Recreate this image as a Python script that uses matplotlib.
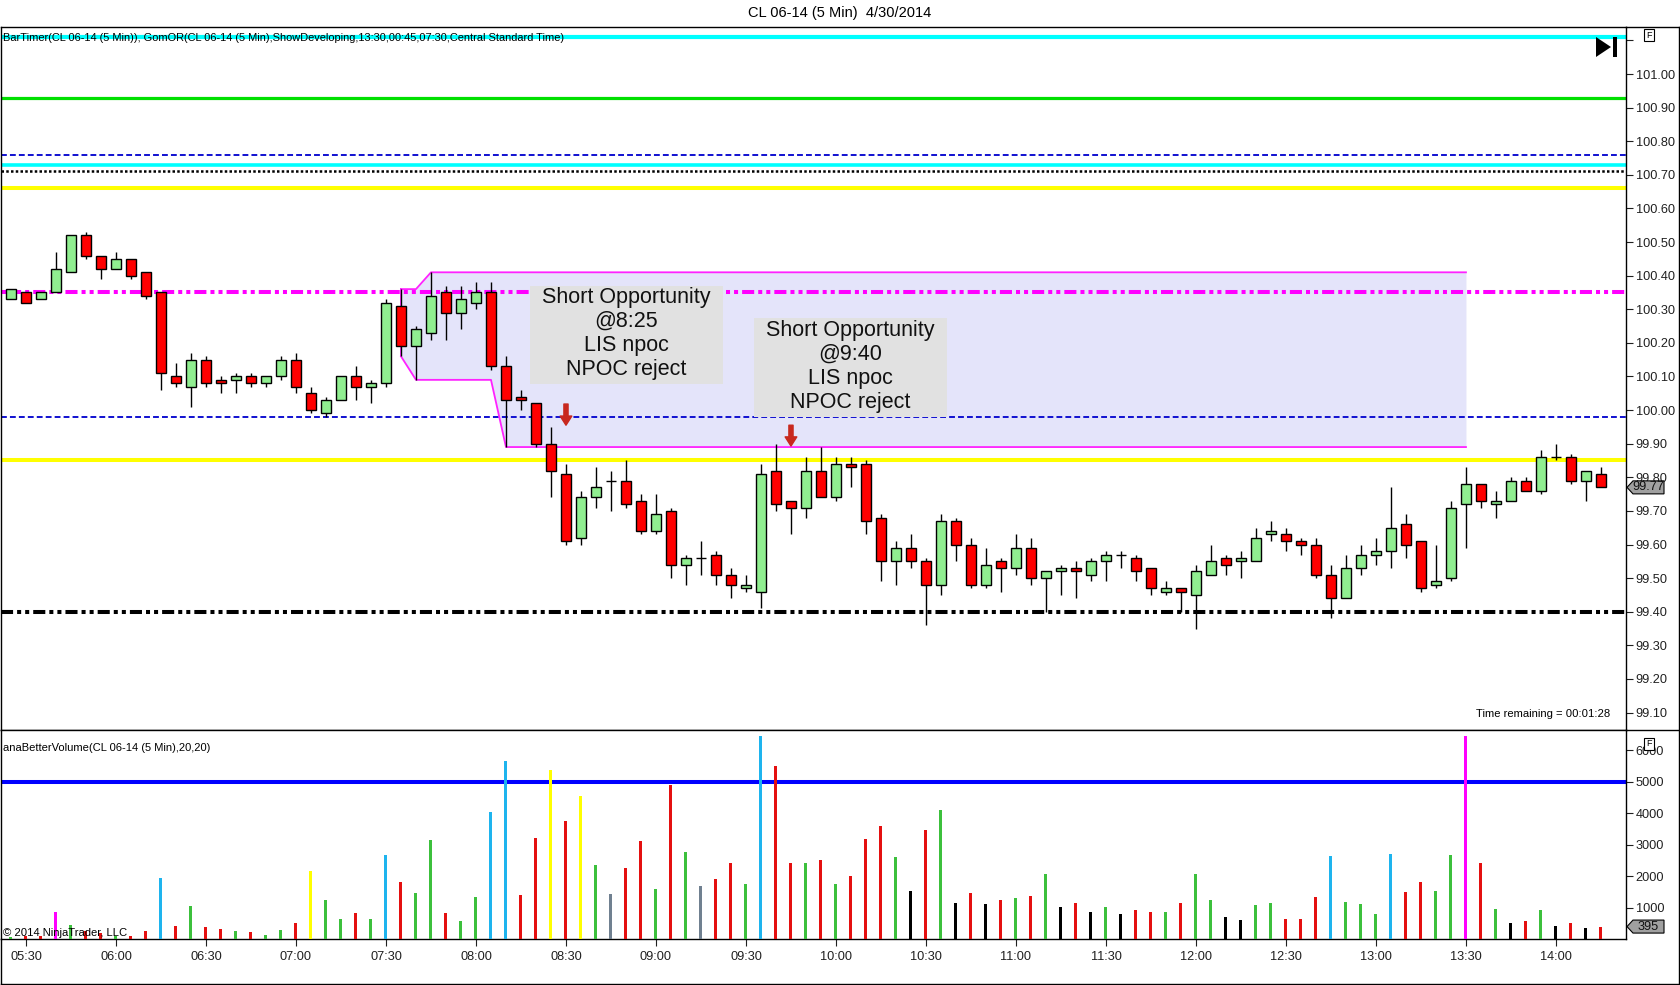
import matplotlib
matplotlib.use('Agg')
import matplotlib.pyplot as plt
import numpy as np
import pandas as pd
from matplotlib.lines import Line2D
from matplotlib.patches import Polygon, Rectangle
from matplotlib.transforms import blended_transform_factory

plt.rcParams['font.family'] = ['Liberation Sans', 'DejaVu Sans']

# 5 minute bars, CL 06-14, 4/30/2014
times = pd.date_range('2014-04-30 05:25', '2014-04-30 14:15', freq='5min')

opens = [100.33, 100.35, 100.33, 100.35, 100.41, 100.52, 100.46, 100.42, 100.45, 100.41,
         100.35, 100.10, 100.07, 100.15, 100.09, 100.09, 100.10, 100.08, 100.10, 100.15,
         100.05, 99.99, 100.03, 100.10, 100.07, 100.08, 100.31, 100.19, 100.23, 100.35,
         100.29, 100.32, 100.35, 100.13, 100.04, 100.02, 99.90, 99.81, 99.62, 99.74,
         99.79, 99.79, 99.73, 99.64, 99.70, 99.54, 99.56, 99.57, 99.51, 99.47,
         99.46, 99.82, 99.73, 99.71, 99.82, 99.74, 99.84, 99.84, 99.68, 99.55,
         99.59, 99.55, 99.48, 99.67, 99.60, 99.48, 99.55, 99.53, 99.59, 99.50,
         99.52, 99.53, 99.51, 99.55, 99.57, 99.56, 99.53, 99.46, 99.47, 99.45,
         99.51, 99.56, 99.55, 99.55, 99.63, 99.63, 99.61, 99.60, 99.51, 99.44,
         99.53, 99.57, 99.58, 99.66, 99.61, 99.48, 99.50, 99.72, 99.78, 99.72,
         99.73, 99.79, 99.76, 99.86, 99.86, 99.79, 99.81]
highs = [100.36, 100.35, 100.35, 100.47, 100.52, 100.53, 100.46, 100.47, 100.45, 100.41,
         100.35, 100.14, 100.17, 100.16, 100.10, 100.11, 100.11, 100.10, 100.16, 100.17,
         100.07, 100.04, 100.10, 100.13, 100.09, 100.33, 100.36, 100.25, 100.41, 100.37,
         100.37, 100.38, 100.38, 100.16, 100.06, 100.02, 99.95, 99.84, 99.76, 99.83,
         99.82, 99.85, 99.75, 99.75, 99.71, 99.57, 99.61, 99.58, 99.53, 99.51,
         99.84, 99.90, 99.73, 99.86, 99.89, 99.86, 99.86, 99.85, 99.69, 99.61,
         99.63, 99.56, 99.69, 99.68, 99.62, 99.59, 99.56, 99.63, 99.62, 99.52,
         99.54, 99.55, 99.56, 99.58, 99.58, 99.57, 99.53, 99.49, 99.47, 99.54,
         99.60, 99.57, 99.58, 99.65, 99.67, 99.65, 99.62, 99.62, 99.54, 99.57,
         99.60, 99.62, 99.77, 99.69, 99.61, 99.60, 99.73, 99.83, 99.78, 99.76,
         99.80, 99.80, 99.88, 99.90, 99.87, 99.82, 99.83]
lows = [100.33, 100.32, 100.33, 100.35, 100.41, 100.45, 100.39, 100.42, 100.39, 100.33,
        100.06, 100.07, 100.01, 100.07, 100.05, 100.05, 100.07, 100.07, 100.09, 100.05,
        99.99, 99.98, 100.03, 100.03, 100.02, 100.07, 100.16, 100.09, 100.21, 100.21,
        100.24, 100.30, 100.12, 99.89, 100.00, 99.89, 99.74, 99.60, 99.60, 99.71,
        99.70, 99.71, 99.63, 99.63, 99.50, 99.48, 99.51, 99.48, 99.44, 99.46,
        99.41, 99.70, 99.63, 99.68, 99.74, 99.73, 99.77, 99.63, 99.49, 99.48,
        99.53, 99.36, 99.45, 99.55, 99.47, 99.47, 99.46, 99.51, 99.48, 99.40,
        99.45, 99.44, 99.49, 99.49, 99.53, 99.49, 99.45, 99.45, 99.40, 99.35,
        99.51, 99.51, 99.50, 99.55, 99.61, 99.58, 99.57, 99.50, 99.38, 99.44,
        99.51, 99.54, 99.53, 99.56, 99.46, 99.47, 99.49, 99.59, 99.71, 99.68,
        99.73, 99.76, 99.75, 99.85, 99.78, 99.73, 99.77]
closes = [100.36, 100.32, 100.35, 100.42, 100.52, 100.46, 100.42, 100.45, 100.40, 100.34,
          100.11, 100.08, 100.15, 100.08, 100.08, 100.10, 100.08, 100.10, 100.15, 100.07,
          100.00, 100.03, 100.10, 100.07, 100.08, 100.32, 100.19, 100.24, 100.34, 100.29,
          100.33, 100.35, 100.13, 100.03, 100.03, 99.90, 99.82, 99.61, 99.74, 99.77,
          99.79, 99.72, 99.64, 99.69, 99.54, 99.56, 99.56, 99.51, 99.48, 99.48,
          99.81, 99.72, 99.71, 99.82, 99.74, 99.84, 99.83, 99.67, 99.55, 99.59,
          99.55, 99.48, 99.67, 99.60, 99.48, 99.54, 99.53, 99.59, 99.50, 99.52,
          99.53, 99.52, 99.55, 99.57, 99.57, 99.52, 99.47, 99.47, 99.46, 99.52,
          99.55, 99.54, 99.56, 99.62, 99.64, 99.61, 99.60, 99.51, 99.44, 99.53,
          99.57, 99.58, 99.65, 99.60, 99.47, 99.49, 99.71, 99.78, 99.73, 99.73,
          99.79, 99.76, 99.86, 99.86, 99.79, 99.82, 99.77]

volumes = [60, 100, 80, 870, 455, 265, 180, 80, 105, 265,
           1930, 425, 1060, 390, 330, 265, 210, 140, 300, 520,
           2160, 1250, 650, 840, 650, 2680, 1820, 1470, 3160, 840,
           580, 1345, 4050, 5670, 1410, 3220, 5370, 3760, 4530, 2365,
           1440, 2270, 3100, 1600, 4880, 2780, 1700, 1920, 2430, 1760,
           6440, 5510, 2400, 2430, 2520, 1760, 2015, 3190, 3600, 2620,
           1540, 3480, 4110, 1155, 1475, 1125, 1250, 1315, 1380, 2080,
           1030, 1155, 870, 1030, 805, 930, 870, 870, 1155, 2080,
           1250, 710, 615, 1090, 1155, 650, 650, 1345, 2650, 1190,
           1125, 805, 2710, 1500, 1820, 1540, 2680, 6440, 2430, 965,
           520, 580, 930, 425, 520, 360, 395]
# anaBetterVolume bar type: r=down, g=up, c=high churn, y=climax, m=climax churn, k=low volume, s=neutral
vol_type = list('grrmgrrgrr' 'crgrrgrggr' 'yggrgcrggr' 'ggccrryryg' 'srrgrgsrrg'
                'crrgrgrrrg' 'krgkrkrgrg' 'krkgkrrgrg' 'gkkggrrrcg' 'ggcrrggmrg'
                'krgkrkr')

# GomOR developing opening range (07:30-13:30)
or_hi_times = ['07:35', '07:40', '07:45', '13:30']
or_hi = [100.36, 100.36, 100.41, 100.41]
or_lo_times = ['07:35', '07:40', '08:05', '08:10', '13:30']
or_lo = [100.16, 100.09, 100.09, 99.89, 99.89]

# horizontal reference levels
levels = [101.11, 100.93, 100.76, 100.73, 100.71, 100.66, 100.35, 99.98, 99.85, 99.40]
vol_level = 5000

notes = ['Short Opportunity\n@8:25\nLIS npoc\nNPOC reject',
         'Short Opportunity\n@9:40\nLIS npoc\nNPOC reject']
arrow_times = ['08:30', '09:45']

W, H = 1680, 985
fig = plt.figure(figsize=(W / 100, H / 100), dpi=100)


def px_axes(l, t, r, b):
    return fig.add_axes([l / W, 1 - b / H, (r - l) / W, (b - t) / H])


labels = [t.strftime('%H:%M') for t in times]
x = np.arange(len(times))
pos = {lab: i for i, lab in enumerate(labels)}
o, h, l, c = map(np.array, (opens, highs, lows, closes))

ax = px_axes(0.5, 27, 1626, 730)
axv = px_axes(0.5, 730, 1626, 939)
for a in (ax, axv):
    a.set_xlim(-0.7, 107.67)
    for s in a.spines.values():
        s.set_linewidth(1.0)
        s.set_color('black')

ax.set_ylim(99.048, 101.14)

# reference levels
lev_style = [('#00FFFF', 3.0, '-'), ('#00E000', 2.3, '-'), ('#1010D0', 1.4, (0, (3, 1.6))),
             ('#00FFFF', 2.6, '-'), ('black', 1.8, (0, (1, 0.9))), ('#FFFF00', 2.9, '-'),
             ('#FF00FF', 2.9, (0, (3, 1, 1, 1, 1, 1))), ('#1010D0', 1.4, (0, (3, 1.6))),
             ('#FFFF00', 2.9, '-'), ('black', 2.9, (0, (3, 1, 1, 1, 1, 1)))]
for lv, (col, lw, ls) in zip(levels, lev_style):
    ax.axhline(lv, color=col, lw=lw, ls=ls, zorder=2)

# opening range box
hx = [pos[t] for t in or_hi_times]
lx = [pos[t] for t in or_lo_times]
fx = np.arange(hx[0], hx[-1] + 1)
ax.fill_between(fx, np.interp(fx, lx, or_lo), np.interp(fx, hx, or_hi),
                color='#E4E4FA', lw=0, zorder=1)
ax.plot(hx, or_hi, color='#FF22FF', lw=1.3, zorder=2.5)
ax.plot(lx, or_lo, color='#FF22FF', lw=1.3, zorder=2.5)
ax.plot([hx[0], hx[0]], [or_lo[0], or_hi[0]], color='#FF22FF', lw=1.3, zorder=2.5)

# candles
body_col = np.where(c >= o, '#90EE90', '#FF0000')
ax.vlines(x, l, h, color='black', lw=1.0, zorder=3)
ax.bar(x, np.abs(c - o), bottom=np.minimum(o, c), width=0.67, color=body_col,
       edgecolor='black', linewidth=1.0, zorder=4)

# annotation boxes (x0, x1 in bar units, y0, y1 in price)
note_boxes = [(34.6, 47.45, 100.077, 100.370), (49.53, 62.4, 99.978, 100.273)]
for txt, (x0, x1, y0, y1) in zip(notes, note_boxes):
    ax.add_patch(Rectangle((x0, y0), x1 - x0, y1 - y0, fc='#E1E1E1', ec='none', zorder=5))
    ax.text((x0 + x1) / 2, (y0 + y1) / 2 + 0.004, txt, ha='center', va='center',
            fontsize=15.5, linespacing=1.2, zorder=6, color='#111111')
for t, top, tip in zip(arrow_times, [100.018, 99.955], [99.955, 99.893]):
    ax.annotate('', xy=(pos[t], tip), xytext=(pos[t], top), zorder=7,
                arrowprops=dict(arrowstyle='simple,head_width=0.7,head_length=0.55,tail_width=0.25',
                                color='#C8281E', mutation_scale=12, shrinkA=0, shrinkB=0))

ax.yaxis.tick_right()
ax.set_yticks(np.round(np.arange(99.1, 101.15, 0.1), 2))
ax.set_yticklabels(['%.2f' % v for v in np.arange(99.1, 101.05, 0.1)] + [''])
ax.tick_params(axis='y', direction='out', length=5, width=0.8, labelsize=9.2, pad=2,
               colors='#202020')
ax.set_xticks([])


def price_tag(a, value, text, unit_per_px):
    tr = blended_transform_factory(fig.transFigure, a.transData)
    hh = 6.5 * unit_per_px
    verts = [(1627 / W, value), (1633 / W, value + hh), (1664 / W, value + hh),
             (1664 / W, value - hh), (1633 / W, value - hh)]
    a.add_patch(Polygon(verts, closed=True, fc='#A0A0A0', ec='black', lw=0.8,
                        transform=tr, clip_on=False, zorder=10))
    a.text(1648.5 / W, value, text, transform=tr, ha='center', va='center', fontsize=9.2,
           clip_on=False, zorder=11, color='#111111')


price_tag(ax, closes[-1], '%.2f' % closes[-1], 1 / 336)

# volume panel
vcol = {'r': '#E41010', 'g': '#3CC03C', 'c': '#1EB4EE', 'y': '#FFFF00', 'm': '#FF00FF',
        'k': 'black', 's': '#708090'}
axv.bar(x, volumes, width=0.2, color=[vcol[t] for t in vol_type], zorder=3)
axv.axhline(vol_level, color='#0000FF', lw=2.9, zorder=2)
axv.set_ylim(0, 6643)
axv.yaxis.tick_right()
axv.set_yticks([1000, 2000, 3000, 4000, 5000, 6000])
axv.tick_params(axis='y', direction='out', length=5, width=0.8, labelsize=9.2, pad=2,
                colors='#202020')
tick_idx = x[1::6]
axv.set_xticks(tick_idx)
axv.set_xticklabels([labels[i] for i in tick_idx])
axv.tick_params(axis='x', direction='out', length=5, width=0.8, labelsize=9.2, pad=4,
                colors='#202020')
price_tag(axv, volumes[-1], str(volumes[-1]), 1000 / 31.46)

# texts
fig.text(0.5, 1 - 13 / H, 'CL 06-14 (5 Min)  4/30/2014', ha='center', va='center', fontsize=10.5)
fig.text(3 / W, 1 - 38 / H,
         'BarTimer(CL 06-14 (5 Min)), GomOR(CL 06-14 (5 Min),ShowDeveloping,13:30,00:45,07:30,Central Standard Time)',
         ha='left', va='center', fontsize=7.9, zorder=10)
fig.text(1610 / W, 1 - 714 / H, 'Time remaining = 00:01:28', ha='right', va='center', fontsize=8.1)
fig.text(3 / W, 1 - 748 / H, 'anaBetterVolume(CL 06-14 (5 Min),20,20)', ha='left', va='center',
         fontsize=8.0)
fig.text(3 / W, 1 - 933 / H, '\u00a9 2014 NinjaTrader, LLC', ha='left', va='center', fontsize=8.1,
         zorder=10)
for yy in (35, 744):
    fig.text(1649 / W, 1 - yy / H, 'F', ha='center', va='center', fontsize=6.5, zorder=10,
             bbox=dict(boxstyle='square,pad=0.2', fc='white', ec='black', lw=0.8))


def fp(px, py):
    return (px / W, 1 - py / H)


fig.patches.append(Polygon([fp(1596, 37), fp(1596, 57), fp(1611, 47)], closed=True,
                           fc='black', ec='none', transform=fig.transFigure, zorder=10))
fig.patches.append(Rectangle(fp(1613, 57), 4 / W, 20 / H, fc='black', ec='none',
                             transform=fig.transFigure, zorder=10))

# outer frame
for (x0, y0, x1, y1) in [(1626, 27, 1679, 27), (1679, 27, 1679, 984), (0.5, 984, 1679, 984),
                         (0.5, 939, 0.5, 984), (1626, 730, 1679, 730)]:
    fig.add_artist(Line2D([x0 / W, x1 / W], [1 - y0 / H, 1 - y1 / H], color='black', lw=1.0,
                          transform=fig.transFigure))

fig.savefig('out.png', dpi=100, facecolor='white')
